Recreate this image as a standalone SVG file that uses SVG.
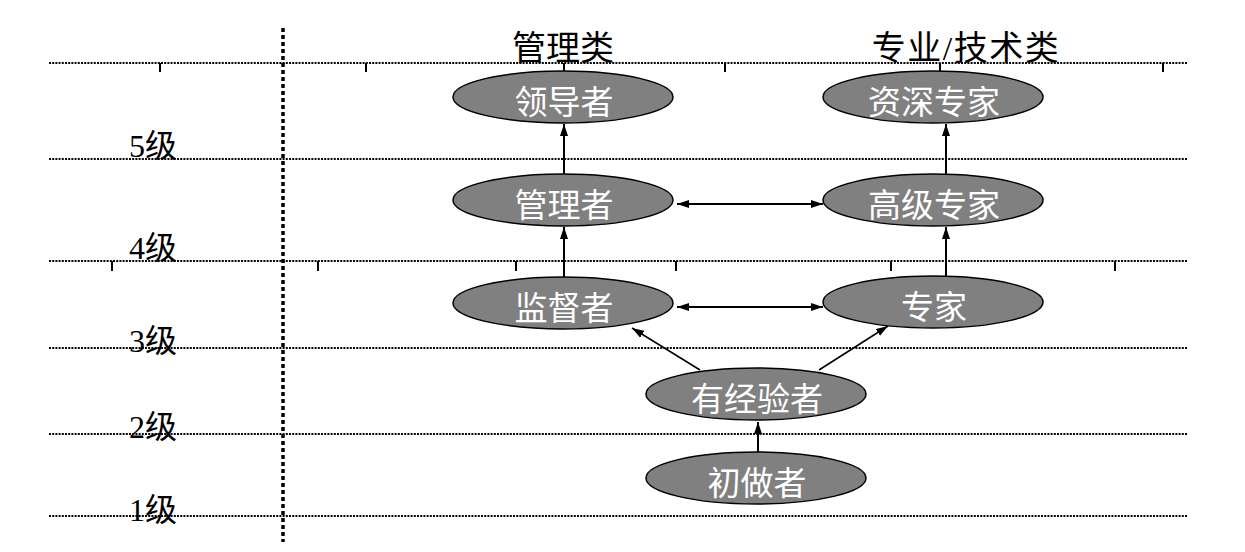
<svg xmlns="http://www.w3.org/2000/svg" width="1245" height="552" viewBox="0 0 1245 552">
<style>
.grid{stroke:#000;stroke-width:1.8;stroke-dasharray:2 1.2;fill:none}
.vgrid{stroke:#000;stroke-width:3.5;stroke-dasharray:4 3;fill:none}
.tick{stroke:#000;stroke-width:2;fill:none}
.node ellipse{fill:#808080;stroke:#000;stroke-width:1.5}
.node text{fill:#fff;font-family:"Liberation Serif","Noto Sans CJK SC",serif;font-size:33px;text-anchor:middle}
.lbl{fill:#000;font-family:"Liberation Serif","Noto Sans CJK SC",serif;font-size:32px}
.hdr{fill:#000;font-family:"Liberation Serif","Noto Sans CJK SC",serif;font-size:34px;text-anchor:middle}
.conn line{stroke:#000;stroke-width:2;fill:none}
</style>
<defs>
<marker id="ah" viewBox="0 0 12 8" refX="12" refY="4" markerWidth="12" markerHeight="8" markerUnits="userSpaceOnUse" orient="auto-start-reverse">
<path d="M0,0 L12,4 L0,8 Z" fill="#000"/>
</marker>
</defs>
<rect width="1245" height="552" fill="#fff"/>
<g id="grid">
<line class="grid" x1="49" y1="63" x2="1187" y2="63"/>
<line class="grid" x1="49" y1="159" x2="1187" y2="159"/>
<line class="grid" x1="49" y1="261" x2="1187" y2="261"/>
<line class="grid" x1="49" y1="348" x2="1187" y2="348"/>
<line class="grid" x1="49" y1="434" x2="1187" y2="434"/>
<line class="grid" x1="49" y1="516" x2="1187" y2="516"/>
<line class="vgrid" x1="283" y1="28" x2="283" y2="542"/>
<g class="tick">
<line x1="160" y1="63" x2="160" y2="72"/>
<line x1="366" y1="63" x2="366" y2="72"/>
<line x1="564" y1="63" x2="564" y2="72"/>
<line x1="725" y1="63" x2="725" y2="72"/>
<line x1="940" y1="63" x2="940" y2="72"/>
<line x1="1163" y1="63" x2="1163" y2="72"/>
<line x1="112" y1="261" x2="112" y2="271"/>
<line x1="318" y1="261" x2="318" y2="271"/>
<line x1="516" y1="261" x2="516" y2="271"/>
<line x1="676" y1="261" x2="676" y2="271"/>
<line x1="891" y1="261" x2="891" y2="271"/>
<line x1="1115" y1="261" x2="1115" y2="271"/>
</g>
</g>
<g id="headers">
<text class="hdr" x="563" y="60">管理类</text>
<text class="hdr" x="966" y="60" style="letter-spacing:1.5px">专业/技术类</text>
</g>
<g id="levels">
<text class="lbl" x="129" y="157">5级</text>
<text class="lbl" x="129" y="259">4级</text>
<text class="lbl" x="129" y="352">3级</text>
<text class="lbl" x="129" y="438">2级</text>
<text class="lbl" x="129" y="521">1级</text>
</g>
<g class="conn" id="connectors">
<line x1="564" y1="174" x2="564" y2="124" marker-end="url(#ah)"/>
<line x1="946" y1="174" x2="946" y2="124" marker-end="url(#ah)"/>
<line x1="564" y1="277" x2="564" y2="227" marker-end="url(#ah)"/>
<line x1="946" y1="277" x2="946" y2="227" marker-end="url(#ah)"/>
<line x1="677" y1="204" x2="823" y2="204" marker-start="url(#ah)" marker-end="url(#ah)"/>
<line x1="677" y1="307" x2="823" y2="307" marker-start="url(#ah)" marker-end="url(#ah)"/>
<line x1="700" y1="370" x2="632" y2="328" marker-end="url(#ah)" style="stroke-width:1.5"/>
<line x1="819" y1="370" x2="888" y2="326" marker-end="url(#ah)" style="stroke-width:1.5"/>
<line x1="758" y1="452" x2="758" y2="422" marker-end="url(#ah)"/>
</g>
<g class="node" id="n-leader"><ellipse cx="563" cy="97" rx="110" ry="26"/><text x="564" y="114">领导者</text></g>
<g class="node" id="n-senior-expert"><ellipse cx="933" cy="97" rx="110" ry="26"/><text x="934" y="114">资深专家</text></g>
<g class="node" id="n-manager"><ellipse cx="563" cy="200" rx="110" ry="26"/><text x="564" y="217">管理者</text></g>
<g class="node" id="n-high-expert"><ellipse cx="933" cy="200" rx="110" ry="26"/><text x="934" y="217">高级专家</text></g>
<g class="node" id="n-supervisor"><ellipse cx="563" cy="303" rx="110" ry="26"/><text x="564" y="320">监督者</text></g>
<g class="node" id="n-expert"><ellipse cx="933" cy="302" rx="110" ry="26"/><text x="934" y="319">专家</text></g>
<g class="node" id="n-experienced"><ellipse cx="756" cy="394" rx="110" ry="26"/><text x="757" y="411">有经验者</text></g>
<g class="node" id="n-beginner"><ellipse cx="756" cy="478" rx="110" ry="26"/><text x="757" y="495">初做者</text></g>
</svg>
